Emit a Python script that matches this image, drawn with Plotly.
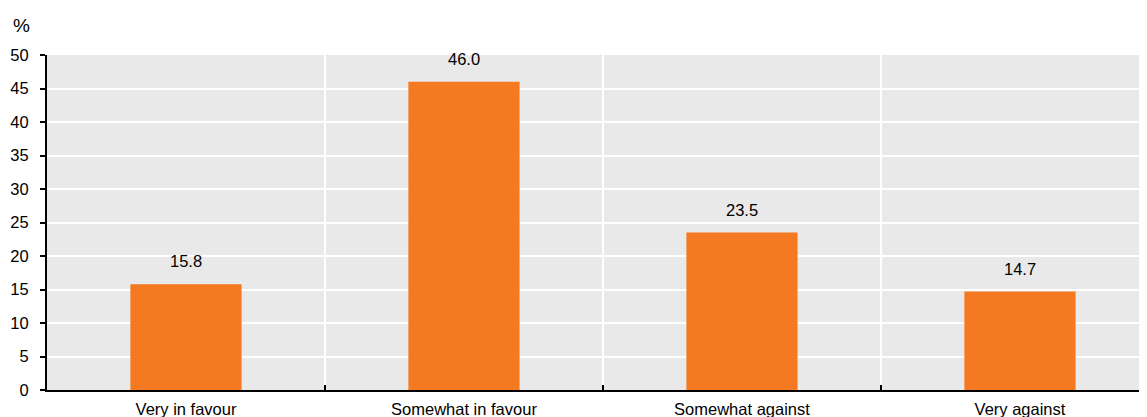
import plotly.graph_objects as go

categories = ["Very in favour", "Somewhat in favour", "Somewhat against", "Very against"]
values = [15.8, 46.0, 23.5, 14.7]
value_labels = ["15.8", "46.0", "23.5", "14.7"]
y_ticks = [0, 5, 10, 15, 20, 25, 30, 35, 40, 45, 50]

FONT = "Liberation Sans Narrow, Arial Narrow, Liberation Sans, Arial, sans-serif"
FS = 16.5

fig = go.Figure()
fig.add_trace(go.Bar(
    x=categories, y=values, width=0.4,
    marker=dict(color="#F47920", line=dict(width=0)),
    hoverinfo="skip",
))

for c, v, t in zip(categories, values, value_labels):
    fig.add_annotation(x=c, y=v, text=t, showarrow=False, xref="x", yref="y",
                       yanchor="bottom", yshift=12,
                       font=dict(family=FONT, size=FS, color="#000000"))

fig.add_annotation(x=0, y=1, xref="paper", yref="paper", text="%", showarrow=False,
                   xanchor="right", yanchor="middle", xshift=-15, yshift=30,
                   font=dict(family=FONT, size=19, color="#000000"))

# page body has an 8px default margin, so the figure is sized/offset to fit the 1147x417 window
fig.update_layout(
    width=1139, height=409,
    margin=dict(l=39, r=0, t=47, b=27, autoexpand=False),
    plot_bgcolor="#E9E9E9", paper_bgcolor="#FFFFFF",
    showlegend=False,
    font=dict(family=FONT, size=FS, color="#000000"),
    bargap=0.6,
)
fig.update_xaxes(
    type="category", range=[-0.5, 3.457], automargin=False,
    tickson="boundaries", ticks="inside", ticklen=5, tickwidth=2, tickcolor="#000000",
    ticklabelstandoff=3,
    showgrid=True, gridcolor="#FFFFFF", gridwidth=2,
    showline=True, linecolor="#000000", linewidth=2,
    tickfont=dict(family=FONT, size=FS, color="#000000"),
)
fig.update_yaxes(
    range=[0, 50], tickvals=y_ticks, automargin=False,
    ticks="outside", ticklen=5, tickwidth=2, tickcolor="#000000",
    ticklabelstandoff=8,
    showgrid=True, gridcolor="#FFFFFF", gridwidth=2,
    showline=True, linecolor="#000000", linewidth=2,
    zeroline=False,
    tickfont=dict(family=FONT, size=FS, color="#000000"),
)

fig.write_html("out.html")
